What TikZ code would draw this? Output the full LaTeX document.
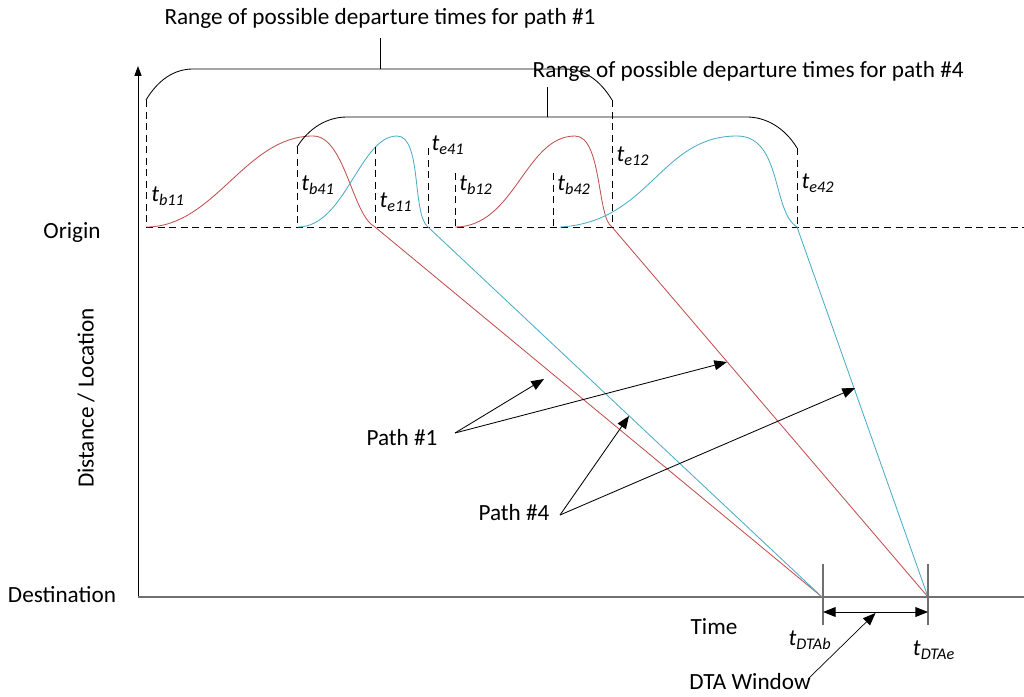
\documentclass[tikz,border=0pt]{standalone}
\usepackage{fontspec}
\setmainfont{Carlito}
\usetikzlibrary{arrows.meta,positioning,calc}

\definecolor{pathred}{RGB}{192,80,77}
\definecolor{pathblue}{RGB}{75,172,198}
\definecolor{axisgray}{RGB}{112,112,112}

% time label with italic subscript
\newcommand{\tlab}[1]{\textit{t}\textsubscript{\textit{#1}}}

\begin{document}
\begin{tikzpicture}[x=0.025cm, y=-0.025cm,
    every node/.style={font=\fontsize{16.5}{19}\selectfont, inner sep=1pt},
    redline/.style={draw=pathred, line width=0.6pt},
    blueline/.style={draw=pathblue, line width=0.6pt},
    marker/.style={draw=black, line width=0.6pt, dash pattern=on 5pt off 3.2pt},
    bracket/.style={draw=black, line width=0.6pt},
    pointer/.style={draw=black, line width=0.6pt, -{Triangle[length=9pt, width=7pt]}}]

    \useasboundingbox (0,0) rectangle (1024,696);

    % Axes
    \draw[black, line width=0.7pt, -{Triangle[length=7pt, width=5pt]}] (138,597) -- (138,66);
    \draw[axisgray, line width=0.9pt] (138,597) -- (1024,597);
    \draw[marker] (146,227) -- (1024,227);

    % Departure profiles and trajectories of path #1 (red) and path #4 (blue)
    \draw[redline] (146,227) .. controls (215,227) and (245,136) .. (313,136)
        .. controls (345,136) and (352,215) .. (375,227) -- (822,597);
    \draw[blueline] (298,227) .. controls (345,227) and (360,136) .. (397,136)
        .. controls (422,136) and (412,215) .. (428,227) -- (822,597);
    \draw[redline] (455,227) .. controls (515,227) and (525,136) .. (575,136)
        .. controls (602,136) and (597,218) .. (612,227) -- (928,597);
    \draw[blueline] (560,227) .. controls (650,222) and (660,136) .. (737,136)
        .. controls (782,136) and (772,212) .. (797,227) -- (928,597);

    % Begin and end markers
    \draw[marker] (146,100) -- (146,227);
    \draw[marker] (297,147) -- (297,227);
    \draw[marker] (375,147) -- (375,227);
    \draw[marker] (428,148) -- (428,227);
    \draw[marker] (455,173) -- (455,227);
    \draw[marker] (553,173) -- (553,227);
    \draw[marker] (612,100) -- (612,227);
    \draw[marker] (797,148) -- (797,227);

    \node (tb11) at (168,196) {\tlab{b11}};
    \node (tb41) at (318,185) {\tlab{b41}};
    \node (te11) at (396,202) {\tlab{e11}};
    \node (te41) at (448,145) {\tlab{e41}};
    \node (tb12) at (476,185) {\tlab{b12}};
    \node (tb42) at (574,185) {\tlab{b42}};
    \node (te12) at (633,156) {\tlab{e12}};
    \node (te42) at (818,183) {\tlab{e42}};

    % Ranges of departure times
    \draw[bracket] (146,100) .. controls (158,80) and (174,69) .. (193,69) -- (565,69)
        .. controls (584,69) and (600,80) .. (612,100);
    \draw[bracket] (380,69) -- (380,38);
    \node (range1) at (380,18) {Range of possible departure times for path \#1};

    \draw[bracket] (297,147) .. controls (309,128) and (327,117) .. (347,117) -- (747,117)
        .. controls (766,117) and (785,128) .. (797,148);
    \draw[bracket] (547,117) -- (547,87);
    \node[anchor=west] (range4) at (531,71) {Range of possible departure times for path \#4};

    % Axis labels
    \node (origin) at (72,233) {Origin};
    \node (dest) at (62,595) {Destination};
    \node[rotate=90] (dist) at (86,398) {Distance / Location};
    \node (time) at (714,627) {Time};

    % Path pointers
    \node (path1) at (402,438) {Path \#1};
    \node (path4) at (514,513) {Path \#4};
    \coordinate (p1src) at (455,433);
    \coordinate (p4src) at (560,515);
    \coordinate (p1a) at (544,379);
    \coordinate (p1b) at (727,362);
    \coordinate (p4a) at (629,416);
    \coordinate (p4b) at (855,388);
    \draw[pointer] (p1src) -- (p1a);
    \draw[pointer] (p1src) -- (p1b);
    \draw[pointer] (p4src) -- (p4a);
    \draw[pointer] (p4src) -- (p4b);

    % DTA window
    \coordinate (dtab) at (823,612);
    \coordinate (dtae) at (928,612);
    \draw[axisgray, line width=0.9pt] (823,564) -- (823,625);
    \draw[axisgray, line width=0.9pt] (928,564) -- (928,625);
    \draw[black, line width=0.7pt, {Triangle[length=9pt, width=7pt]}-{Triangle[length=9pt, width=7pt]}] (dtab) -- (dtae);
    \node (tdtab) at (810,640) {\tlab{DTAb}};
    \node (tdtae) at (934,650) {\tlab{DTAe}};
    \node (window) at (750,682) {DTA Window};
    \coordinate (wsrc) at (808,679);
    \draw[black, line width=0.5pt, -{Triangle[length=9pt, width=7pt]}] (wsrc) -- ($(dtab)!0.5!(dtae)+(0,1)$);
\end{tikzpicture}
\end{document}
